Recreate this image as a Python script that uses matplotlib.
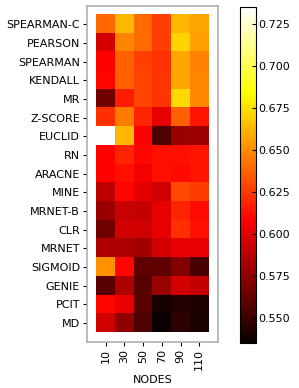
import numpy as np
import matplotlib
matplotlib.use('Agg')
import matplotlib.pyplot as plt

methods = ['SPEARMAN-C', 'PEARSON', 'SPEARMAN', 'KENDALL', 'MR', 'Z-SCORE',
           'EUCLID', 'RN', 'ARACNE', 'MINE', 'MRNET-B', 'CLR', 'MRNET',
           'SIGMOID', 'GENIE', 'PCIT', 'MD']
nodes = ['10', '30', '50', '70', '90', '110']

# score per method (rows) and network size (columns)
spearman_c = [0.639, 0.663, 0.640, 0.627, 0.663, 0.657]
pearson    = [0.595, 0.648, 0.640, 0.627, 0.671, 0.656]
spearman   = [0.608, 0.637, 0.627, 0.623, 0.658, 0.647]
kendall    = [0.610, 0.637, 0.628, 0.624, 0.658, 0.648]
mr         = [0.566, 0.617, 0.628, 0.624, 0.673, 0.649]
zscore     = [0.622, 0.645, 0.619, 0.601, 0.637, 0.614]
euclid     = [0.735, 0.663, 0.608, 0.555, 0.578, 0.579]
rn         = [0.608, 0.619, 0.610, 0.613, 0.613, 0.614]
aracne     = [0.609, 0.613, 0.605, 0.613, 0.611, 0.614]
mine       = [0.589, 0.610, 0.600, 0.594, 0.630, 0.626]
mrnet_b    = [0.578, 0.592, 0.591, 0.601, 0.619, 0.611]
clr        = [0.566, 0.595, 0.594, 0.601, 0.622, 0.613]
mrnet      = [0.584, 0.583, 0.581, 0.595, 0.602, 0.601]
sigmoid    = [0.651, 0.610, 0.561, 0.561, 0.572, 0.554]
genie      = [0.559, 0.585, 0.558, 0.578, 0.595, 0.591]
pcit       = [0.610, 0.602, 0.559, 0.539, 0.543, 0.542]
md         = [0.594, 0.575, 0.556, 0.535, 0.546, 0.540]

data = np.array([spearman_c, pearson, spearman, kendall, mr, zscore, euclid,
                 rn, aracne, mine, mrnet_b, clr, mrnet, sigmoid, genie, pcit, md])

fig = plt.figure(figsize=(2.99, 3.88), dpi=100)
ax = fig.add_axes([0.291, 0.119, 0.438, 0.866])
im = ax.imshow(data, cmap='hot', interpolation='nearest', aspect='auto',
               vmin=data.min(), vmax=data.max())
ax.set_xlim(-1, len(nodes))
ax.set_ylim(len(methods), -1)
ax.set_xticks(range(len(nodes)))
ax.set_xticklabels(nodes, rotation=90, fontsize=8)
ax.set_yticks(range(len(methods)))
ax.set_yticklabels(methods, fontsize=8)
ax.tick_params(direction='out', length=3, width=0.8, pad=2)
ax.tick_params(top=False, right=False)
for s in ax.spines.values():
    s.set_color('#b0b0b0')
    s.set_linewidth(1.2)
ax.set_xlabel('NODES', fontsize=8)

cax = fig.add_axes([0.803, 0.116, 0.053, 0.866])
cb = fig.colorbar(im, cax=cax, ticks=[0.55, 0.575, 0.6, 0.625, 0.65, 0.675, 0.7, 0.725])
cb.ax.set_yticklabels(['%.3f' % t for t in [0.55, 0.575, 0.6, 0.625, 0.65, 0.675, 0.7, 0.725]])
cb.ax.tick_params(direction='in', length=3, width=0.8, labelsize=8, pad=2)
cb.outline.set_linewidth(0.8)

fig.savefig('out.png', dpi=100)
